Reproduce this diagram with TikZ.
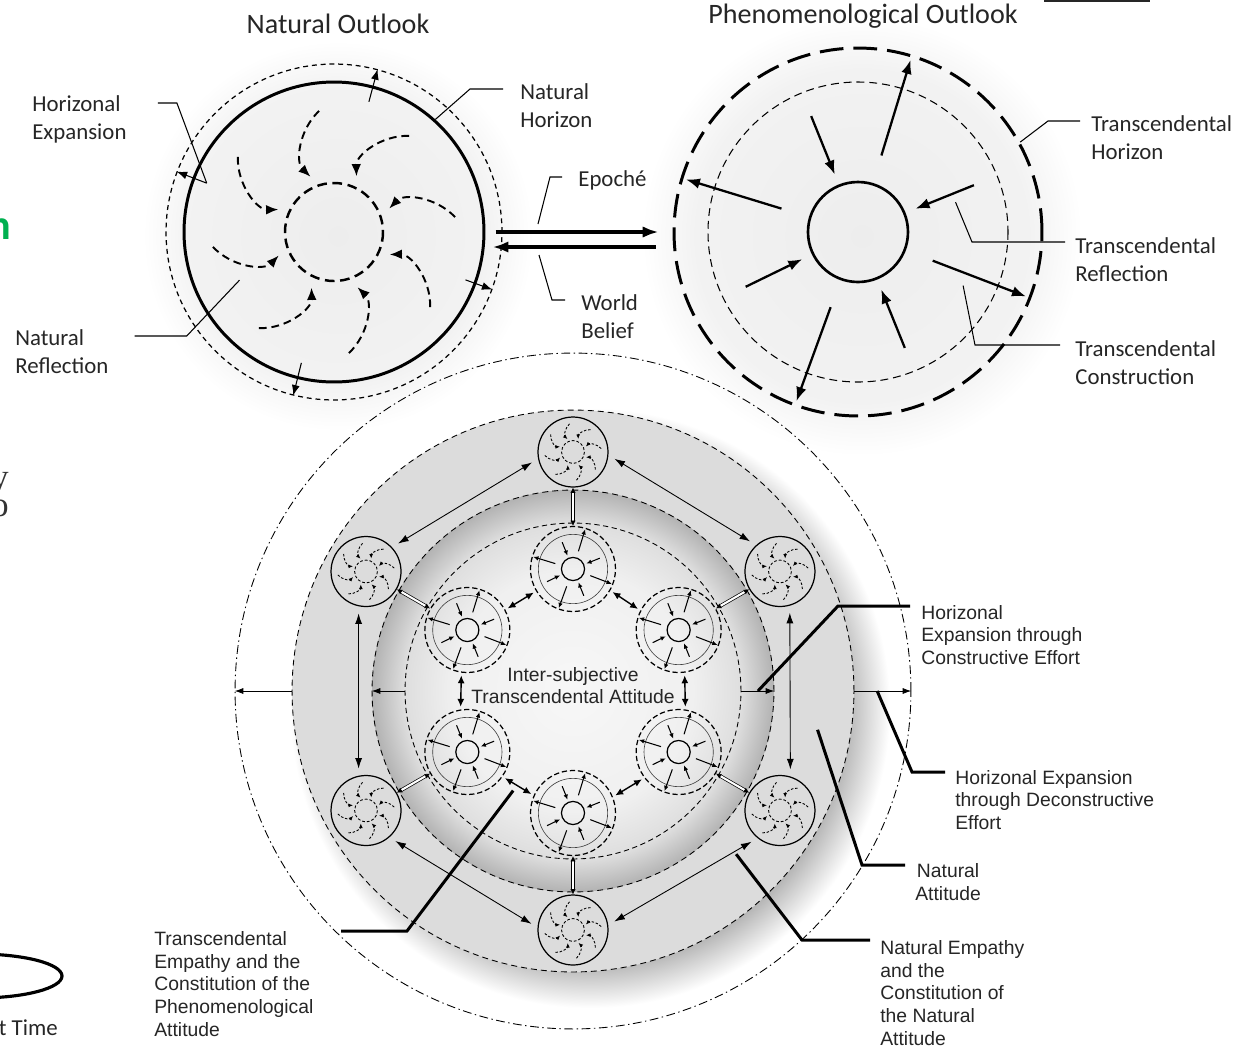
\documentclass[tikz,border=0pt]{standalone}
\usepackage{fontspec}
\setmainfont{Carlito}
\newfontfamily\arialfont{Liberation Sans}
\newfontfamily\slidefont{Liberation Serif}
\usetikzlibrary{arrows.meta,calc,positioning}

\definecolor{slidegreen}{HTML}{00B050}
\definecolor{bandgray}{HTML}{DCDCDC}

\pgfdeclareradialshading{holeshade}{\pgfpoint{0bp}{0bp}}{%
  color(0bp)=(black!3); color(15bp)=(black!6); color(21bp)=(black!13);
  color(25bp)=(black!30); color(50bp)=(black!30)}
\pgfdeclareradialshading{ringshadow}{\pgfpoint{0bp}{0bp}}{%
  color(0bp)=(black!36); color(20.5bp)=(black!36); color(25bp)=(white);
  color(50bp)=(white)}
\pgfdeclareradialshading{softglow}{\pgfpoint{0bp}{0bp}}{%
  color(0bp)=(black!7); color(19bp)=(black!5); color(25bp)=(white);
  color(50bp)=(white)}

\tikzset{
  pics/natmind/.style={code={
    \draw[natcore] (0,0) circle (49);
    \foreach \a in {-97,-52,-7,38,83,128,173,218}
      \draw[swirl] (\a:122) .. controls (\a-12:108) and (\a-22:80) .. (\a-16:60);
  }},
  pics/phenmind/.style={code={
    \draw[phmid] (0,0) circle (150);
    \draw[phcore] (0,0) circle (50);
    \foreach \a in {-112,-22,68,154}
      \draw[pharr] (\a:125) -- (\a:62);
    \foreach \a in {-73,21,110,-163}
      \draw[pharr] (\a:80) -- (\a:180);
  }}
}

\begin{document}
\begin{tikzpicture}[x=0.02cm, y=-0.02cm,
  lbl/.style={font=\fontsize{13}{15.9}\selectfont, align=left, inner sep=0pt, text=black!85},
  ttl/.style={font=\fontsize{16}{19}\selectfont, inner sep=0pt, text=black!85},
  albl/.style={font=\arialfont\fontsize{11}{13}\selectfont, align=left, inner sep=0pt, text=black!85},
  lead/.style={line width=0.6pt},
  leadb/.style={line width=1.7pt},
  natcore/.style={line width=1.4pt, dash pattern=on 5.5pt off 3.2pt},
  swirl/.style={line width=1.1pt, dash pattern=on 4.4pt off 2.8pt, -{Latex[length=7pt,width=5.5pt]}},
  phmid/.style={line width=0.6pt, dash pattern=on 4.5pt off 2.8pt},
  phcore/.style={line width=1.5pt},
  pharr/.style={line width=1.3pt, -{Latex[length=8pt,width=6pt]}},
  exparr/.style={line width=0.6pt, -{Latex[length=6pt,width=4.5pt]}},
  bigarr/.style={line width=1.8pt, -{Latex[length=9pt,width=6.5pt]}},
  ring/.style={circle, draw, inner sep=0pt, line width=0.5pt, dash pattern=on 3pt off 2pt},
  natsmall/.style={circle, draw, inner sep=0pt, line width=0.7pt, minimum size=1.4cm},
  phsmall/.style={circle, draw, inner sep=0pt, line width=0.7pt, dash pattern=on 3pt off 1.6pt, minimum size=1.7cm},
  biarr/.style={line width=0.5pt, {Latex[length=6pt,width=4pt]}-{Latex[length=6pt,width=4pt]}, shorten <=4pt, shorten >=4pt},
  pbiarr/.style={line width=0.8pt, {Latex[length=4.5pt,width=4pt]}-{Latex[length=4.5pt,width=4pt]}, shorten <=1.5pt, shorten >=1.5pt},
  dbl/.style={double, double distance=1.2pt, line width=0.4pt, {Latex[length=3pt,width=3pt]}-{Latex[length=3pt,width=3pt]}},
  hxarr/.style={line width=0.5pt, -{Latex[length=5pt,width=3.5pt]}}
]
\useasboundingbox (0,0) rectangle (1249,1046);
\fill[white] (0,0) rectangle (1249,1046);

% shadows and fills
\shade[shading=ringshadow] (590,708) circle (300);
\shade[shading=softglow] (338,236) circle (195);
\shade[shading=softglow] (862,236) circle (220);
\coordinate (O) at (573,691);
\fill[bandgray, even odd rule] (O) circle (281) (O) circle (201);
\shade[shading=holeshade] (O) circle (201);

% natural outlook
\node[circle, draw, inner sep=0pt, line width=0.7pt, dash pattern=on 2.8pt off 2.2pt, minimum size=6.72cm] (natring) at (334,232) {};
\node[circle, draw, inner sep=0pt, line width=1.7pt, minimum size=6cm] (natouter) at (334,232) {};
\pic at (natouter) {natmind};
\foreach \a/\f in {75/0.8, 159/0.81, 256/0.8, -20/0.83}
  \draw[exparr] ($(natring.center)!\f!(natring.\a)$) -- (natring.\a);

% phenomenological outlook
\node[circle, draw, inner sep=0pt, line width=1.7pt, dash pattern=on 13.5pt off 5.7pt, minimum size=7.36cm] (phenouter) at (858,232) {};
\pic at (phenouter) {phenmind};

% epoche / world belief
\draw[bigarr] ([shift={(-7,0)}]natring.east) -- ([shift={(-14,0)}]phenouter.west);
\draw[bigarr] ([shift={(-17,15)}]phenouter.west) -- ([shift={(-10,15)}]natring.east);

% titles and labels (top)
\node[ttl] (natT) at (338,24) {Natural Outlook};
\node[ttl] (phenT) at (863,16) {Phenomenological Outlook};
\node[lbl, anchor=west] (hexp) at (32,119) {Horizonal\\Expansion};
\node[lbl, anchor=west] (nhor) at (520,106) {Natural\\Horizon};
\node[lbl, anchor=west] (nref) at (15,352) {Natural\\Reflection};
\node[lbl, anchor=west] (epo) at (578,180) {Epoché};
\node[lbl, anchor=west] (wbel) at (581,317) {World\\Belief};
\node[lbl, anchor=west] (thor) at (1091,138) {Transcendental\\Horizon};
\node[lbl, anchor=west] (tref) at (1075,260) {Transcendental\\Reflection};
\node[lbl, anchor=west] (tcon) at (1075,363) {Transcendental\\Construction};

\coordinate (epoA) at (538,224);
\coordinate (wbA) at (539,255);
\draw[lead] ([shift={(31,-16)}]hexp.east) -- ++(19,0) -- ($(natouter.center)!0.9!(natouter.159)$);
\draw[lead] ([shift={(-17,-17)}]nhor.west) -- ++(-33,0) -- (natouter.48);
\draw[lead] ([shift={(26,-16)}]nref.east) -- ++(52,0) -- ($(natouter.center)!0.7!(natouter.207)$);
\draw[lead] ([shift={(-16,-3)}]epo.west) -- ++(-12,0) -- (epoA);
\draw[lead] ([shift={(-16,-17)}]wbel.west) -- ++(-13,0) -- (wbA);
\draw[lead] ([shift={(-11,-17)}]thor.west) -- ++(-32,0) -- (phenouter.29);
\draw[lead] ([shift={(-10,-18)}]tref.west) -- ++(-93,0) -- ($(phenouter.center)!0.55!(phenouter.17)$);
\draw[lead] ([shift={(-15,-18)}]tcon.west) -- ++(-85,0) -- ($(phenouter.center)!0.636!(phenouter.-27)$);

% inter-subjective rings
\node[ring, minimum size=6.72cm] (ringA) at (O) {};
\node[ring, dash pattern=on 3.4pt off 2.3pt, minimum size=8.04cm] (ringB) at (O) {};
\node[ring, dash pattern=on 3.4pt off 2.3pt, minimum size=11.24cm] (ringC) at (O) {};
\node[ring, dash pattern=on 5pt off 2pt on 0.8pt off 2pt, minimum size=13.52cm] (ringD) at (O) {};

\foreach \a/\nm in {90/t,150/ul,210/ll,270/b,330/lr,30/ur}{
  \node[natsmall] (n\nm) at ($(O)+(-\a:239)$) {};
  \node[phsmall] (p\nm) at ($(O)+(-\a:122)$) {};
}
\begin{scope}[natcore/.style={line width=0.5pt, dash pattern=on 1.6pt off 1.1pt},
  swirl/.style={line width=0.5pt, dash pattern=on 1.4pt off 1pt, -{Latex[length=2.6pt,width=2.2pt]}},
  phmid/.style={line width=0.35pt, black!75},
  phcore/.style={line width=0.7pt},
  pharr/.style={line width=0.6pt, -{Latex[length=3pt,width=2.6pt]}}]
  \foreach \nm in {t,ul,ll,b,lr,ur}{
    \pic[scale=0.233] at (n\nm) {natmind};
    \pic[scale=0.231] at (p\nm) {phenmind};
  }
\end{scope}

% natural empathy links
\draw[biarr] (nt.191) -- (nul.43);
\draw[biarr] (nt.-5) -- (nur.132);
\draw[biarr] (nul.258) -- (nll.102);
\draw[biarr] (nur.286) -- (nlr.73);
\draw[biarr] (nll.-49) -- (nb.176);
\draw[biarr] (nlr.231) -- (nb.8);

% transcendental empathy links
\draw[pbiarr] (pul.28) -- (pt.211);
\draw[pbiarr] (pt.-30) -- (pur.153);
\draw[pbiarr] (pul.262) -- (pll.99);
\draw[pbiarr] (pur.278) -- (plr.81);
\draw[pbiarr] (pll.-35) -- (pb.156);
\draw[pbiarr] (plr.217) -- (pb.22);

% constitution links
\foreach \nm in {t,ul,ll,b,lr,ur}
  \draw[dbl] (n\nm) -- (p\nm);

% horizonal expansion
\draw[hxarr] (ringA.west) -- (ringB.west);
\draw[hxarr] (ringC.west) -- (ringD.west);
\draw[hxarr] (ringA.east) -- (ringB.east);
\draw[hxarr] (ringC.east) -- (ringD.east);

% labels (bottom)
\node[albl, align=center, font=\arialfont\fontsize{11}{12.5}\selectfont] (inter) at (573,686) {Inter-subjective\\Transcendental Attitude};
\node[albl, anchor=west] (hexc) at (921,635) {Horizonal\\Expansion through\\Constructive Effort};
\node[albl, anchor=west] (hexd) at (955,800) {Horizonal Expansion\\through Deconstructive\\Effort};
\node[albl, anchor=west, align=center] (natt) at (915,882) {Natural\\Attitude};
\node[albl, anchor=west] (nemp) at (880,993) {Natural Empathy\\and the\\Constitution of\\the Natural\\Attitude};
\node[albl, anchor=west] (temp) at (154,984) {Transcendental\\Empathy and the\\Constitution of the\\Phenomenological\\Attitude};

\draw[leadb] ([shift={(-11,-29)}]hexc.west) -- ++(-72,0) -- ($(ringA.east)!0.5!(ringB.east)$);
\draw[leadb] ([shift={(-10,-28)}]hexd.west) -- ++(-33,0) -- ($(ringC.east)!0.4!(ringD.east)$);
\draw[leadb] ([shift={(-10,-17)}]natt.west) -- ++(-43,0) -- ($(ringC.center)!0.88!(ringC.-9)$);
\draw[leadb] ([shift={(-10,-53)}]nemp.west) -- ++(-68,0) -- ($(ringC.center)!0.82!(ringC.-45)$);
\draw[leadb] ([shift={(187,-53)}]temp.west) -- ++(66,0) -- ($(ringA.center)!0.69!(ringA.239)$);

% slide fragments
\node[font=\bfseries\fontsize{24}{28}\selectfont, text=slidegreen, anchor=east, inner sep=0pt] (frgn) at (11,229) {n};
\node[font=\slidefont\fontsize{20}{15.9}\selectfont, text=black!80, align=right, anchor=base east, inner sep=0pt] (frgyo) at (9,516) {y\\o};
\draw[line width=1.8pt] (-22,976) ellipse [x radius=84, y radius=22];
\node[lbl, anchor=east] (frgt) at (58,1028) {t Time};
\fill[black!85] (1044,-3) rectangle (1150,2);
\end{tikzpicture}
\end{document}
